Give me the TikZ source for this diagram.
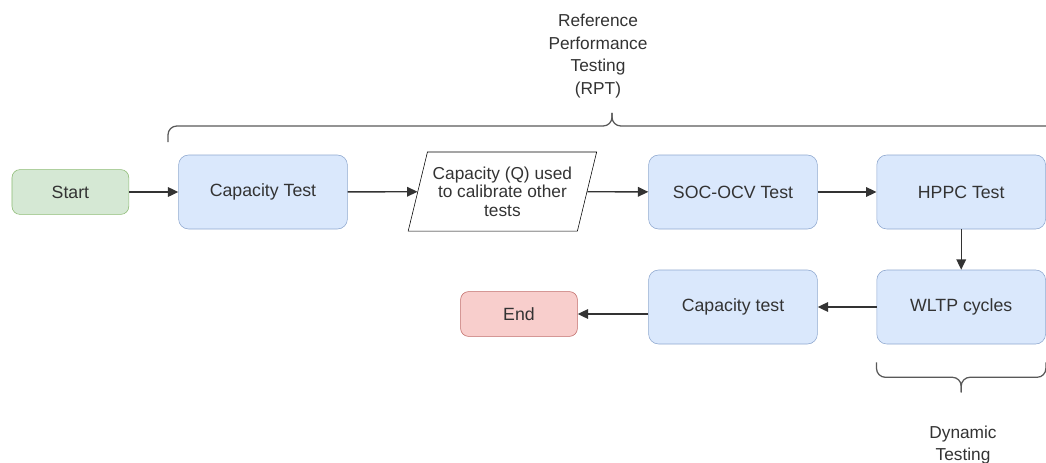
\documentclass[tikz,border=0pt]{standalone}
\usepackage{fontspec}
\setmainfont{Liberation Sans}
\usepackage{xcolor}
\usetikzlibrary{shapes.geometric,arrows.meta}

\definecolor{azulrelleno}{HTML}{DAE8FC}
\definecolor{azulborde}{HTML}{8FA8CF}
\definecolor{verderelleno}{HTML}{D5E8D4}
\definecolor{verdeborde}{HTML}{8DBB74}
\definecolor{rojorelleno}{HTML}{F8CECC}
\definecolor{rojoborde}{HTML}{C06A66}
\definecolor{texto}{HTML}{333333}

\begin{document}
\begin{tikzpicture}[
        caja/.style={draw=azulborde, fill=azulrelleno, rounded corners=0.25cm,
            minimum width=4.22cm, minimum height=1.85cm, text=texto,
            font=\fontsize{12.6}{15}\selectfont},
        terminal/.style={rounded corners=0.2cm, minimum width=2.92cm,
            minimum height=1.12cm, text=texto, font=\fontsize{12.6}{15}\selectfont},
        datos/.style={trapezium, trapezium left angle=70, trapezium right angle=110,
            trapezium stretches=true, draw=black, minimum width=4.72cm,
            minimum height=1.98cm, align=center, inner sep=0pt, text=texto,
            font=\fontsize{12.3}{13}\selectfont},
        etiqueta/.style={align=center, text=texto, font=\fontsize{12.3}{16}\selectfont},
        flecha/.style={-{Triangle[length=0.26cm,width=0.24cm]}, draw=texto, line width=1pt},
        llave/.style={draw=black!65, line width=0.9pt, rounded corners=0.22cm}
    ]

    % Marco
    \useasboundingbox (0,0) rectangle (26.15,-11.575);

    % Fila superior
    \node[terminal, draw=verdeborde, fill=verderelleno] (inicio) at (1.76,-4.8) {Start};
    \node[caja] (cap1) at (6.575,-4.8) {Capacity Test};
    \node[datos] (calib) at (12.56,-4.79) {Capacity (Q) used\\to calibrate other\\tests};
    \node[caja] (soc) at (18.325,-4.8) {SOC-OCV Test};
    \node[caja] (hppc) at (24.03,-4.8) {HPPC Test};

    % Fila inferior
    \node[caja] (wltp) at (24.03,-7.675) {WLTP cycles};
    \node[caja] (cap2) at (18.325,-7.675) {Capacity test};
    \node[terminal, draw=rojoborde, fill=rojorelleno] (fin) at (12.975,-7.85) {End};

    % Flechas
    \draw[flecha] (inicio) -- (cap1);
    \draw[flecha] (cap1) -- (calib);
    \draw[flecha] (calib) -- (soc);
    \draw[flecha] (soc) -- (hppc);
    \draw[flecha] (hppc) -- (wltp);
    \draw[flecha] (wltp) -- (cap2);
    \draw[flecha] (cap2.west |- fin) -- (fin);

    % Llave superior (RPT)
    \coordinate (rptizq) at (4.2,-3.55);
    \coordinate (rptder) at (26.4,-3.55);
    \coordinate (rptbase) at (15.3,-3.15);
    \coordinate (rptpico) at (15.3,-2.82);
    \draw[llave] (rptizq) |- (rptbase) -- (rptpico);
    \draw[llave] (rptder) |- (rptbase) -- (rptpico);

    % Llave inferior (dinamico)
    \coordinate (dinizq) at ([yshift=-0.45cm]wltp.south west);
    \coordinate (dinder) at ([yshift=-0.45cm]wltp.south east);
    \coordinate (dinbase) at ([yshift=-0.825cm]wltp.south);
    \coordinate (dinpico) at ([yshift=-1.2cm]wltp.south);
    \draw[llave] (dinizq) |- (dinbase) -- (dinpico);
    \draw[llave] (dinder) |- (dinbase) -- (dinpico);

    % Etiquetas
    \node[etiqueta] (rpt) at (14.95,-1.4) {Reference\\Performance\\Testing\\(RPT)};
    \node[etiqueta] (dinamico) at (24.075,-11.12) {Dynamic\\Testing};

\end{tikzpicture}
\end{document}
